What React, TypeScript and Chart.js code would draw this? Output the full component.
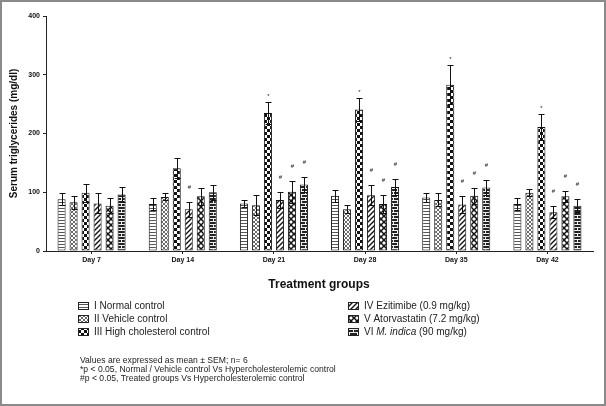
import React, { useEffect, useRef } from "react";
import { Chart, registerables } from "chart.js";

Chart.register(...registerables);

const FONT = "'Liberation Sans', Arial, sans-serif";

const categories = ["Day 7", "Day 14", "Day 21", "Day 28", "Day 35", "Day 42"];
const seriesLabels = [
  "I Normal control",
  "II Vehicle control",
  "III High cholesterol control",
  "IV Ezitimibe (0.9 mg/kg)",
  "V Atorvastatin (7.2 mg/kg)",
  "VI M. indica (90 mg/kg)",
];

const normalMeans = [88, 80, 81, 94, 91, 80];
const vehicleMeans = [83, 92, 78, 71, 87, 99];
const highCholMeans = [99, 141, 235, 241, 283, 211];
const ezetimibeMeans = [81, 71, 87, 95, 79, 66];
const atorvastatinMeans = [77, 93, 101, 80, 94, 93];
const indicaMeans = [96, 100, 113, 109, 108, 77];

const normalSem = [10, 11, 6, 10, 8, 11];
const vehicleSem = [11, 6, 17, 7, 11, 6];
const highCholSem = [15, 17, 19, 20, 33, 22];
const ezetimibeSem = [17, 13, 14, 17, 14, 10];
const atorvastatinSem = [13, 15, 19, 15, 14, 9];
const indicaSem = [13, 13, 13, 13, 13, 11];

const normalMarks = ["", "", "", "", "", ""];
const vehicleMarks = ["", "", "", "", "", ""];
const highCholMarks = ["", "", "*", "*", "*", "*"];
const ezetimibeMarks = ["", "#", "#", "#", "#", "#"];
const atorvastatinMarks = ["", "", "#", "#", "#", "#"];
const indicaMarks = ["", "", "#", "#", "#", "#"];

const yTicks = [0, 100, 200, 300, 400];

const notes = [
  "Values are expressed as mean \u00b1 SEM; n= 6",
  "*p < 0.05, Normal / Vehicle control Vs Hypercholesterolemic control",
  "#p < 0.05, Treated groups Vs Hypercholesterolemic control",
];

const means = [normalMeans, vehicleMeans, highCholMeans, ezetimibeMeans, atorvastatinMeans, indicaMeans];
const sems = [normalSem, vehicleSem, highCholSem, ezetimibeSem, atorvastatinSem, indicaSem];
const marks = [normalMarks, vehicleMarks, highCholMarks, ezetimibeMarks, atorvastatinMarks, indicaMarks];

function makePattern(kind: number): CanvasPattern | string {
  const c = document.createElement("canvas");
  const g = c.getContext("2d");
  if (!g) return "#fff";
  if (kind === 0) {
    c.width = 2; c.height = 3;
    g.fillStyle = "#fff"; g.fillRect(0, 0, 2, 3);
    g.fillStyle = "#555"; g.fillRect(0, 1, 2, 1);
  } else if (kind === 1) {
    c.width = 4; c.height = 4;
    g.fillStyle = "#fff"; g.fillRect(0, 0, 4, 4);
    g.fillStyle = "#6a6a6a";
    for (let i = 0; i < 4; i++) { g.fillRect(i, i, 1, 1); g.fillRect(3 - i, i, 1, 1); }
  } else if (kind === 2) {
    c.width = 6; c.height = 6;
    g.fillStyle = "#fff"; g.fillRect(0, 0, 6, 6);
    g.fillStyle = "#111"; g.fillRect(0, 0, 3, 3); g.fillRect(3, 3, 3, 3);
  } else if (kind === 3) {
    c.width = 5; c.height = 5;
    g.fillStyle = "#fff"; g.fillRect(0, 0, 5, 5);
    g.strokeStyle = "#111"; g.lineWidth = 1.4;
    g.beginPath();
    g.moveTo(-1, 6); g.lineTo(6, -1);
    g.moveTo(-1, 1); g.lineTo(1, -1);
    g.moveTo(4, 6); g.lineTo(6, 4);
    g.stroke();
  } else if (kind === 4) {
    c.width = 6; c.height = 6;
    g.fillStyle = "#fff"; g.fillRect(0, 0, 6, 6);
    g.strokeStyle = "#111"; g.lineWidth = 1.5;
    g.beginPath();
    g.moveTo(-1, -1); g.lineTo(7, 7);
    g.moveTo(-1, 7); g.lineTo(7, -1);
    g.stroke();
  } else {
    c.width = 8; c.height = 6;
    g.fillStyle = "#222"; g.fillRect(0, 0, 8, 6);
    g.fillStyle = "#eee";
    g.fillRect(0, 2, 8, 1); g.fillRect(0, 5, 8, 1);
    g.fillRect(1, 0, 1, 2); g.fillRect(5, 3, 1, 2);
  }
  const ctxMain = document.createElement("canvas").getContext("2d");
  return (ctxMain && ctxMain.createPattern(c, "repeat")) || "#fff";
}

const errorBarPlugin = {
  id: "errorBars",
  afterDatasetsDraw(chart: any) {
    const ctx = chart.ctx;
    const ys = chart.scales.y;
    ctx.save();
    chart.data.datasets.forEach((ds: any, i: number) => {
      const meta = chart.getDatasetMeta(i);
      meta.data.forEach((bar: any, j: number) => {
        const m = ds.data[j];
        const e = sems[i][j];
        const x = Math.round(bar.x) + 0.5;
        const yt = Math.round(ys.getPixelForValue(m + e)) + 0.5;
        const yb = Math.round(ys.getPixelForValue(m - e)) + 0.5;
        ctx.strokeStyle = "#111";
        ctx.lineWidth = 1;
        ctx.beginPath();
        ctx.moveTo(x, yt); ctx.lineTo(x, yb);
        ctx.moveTo(x - 3, yt); ctx.lineTo(x + 3, yt);
        ctx.moveTo(x - 3, yb); ctx.lineTo(x + 3, yb);
        ctx.stroke();
        const mk = marks[i][j];
        if (mk) {
          ctx.fillStyle = "#222";
          ctx.font = `6px ${FONT}`;
          ctx.textAlign = "center";
          ctx.textBaseline = "middle";
          ctx.fillText(mk, x, mk === "*" ? yt - 6 : yt - 15);
        }
      });
    });
    ctx.restore();
  },
};

const framePlugin = {
  id: "frame",
  beforeDraw(chart: any) {
    const ctx = chart.ctx;
    ctx.save();
    ctx.fillStyle = "#fff";
    ctx.fillRect(0, 0, chart.width, chart.height);
    ctx.restore();
  },
  afterDraw(chart: any) {
    const ctx = chart.ctx;
    ctx.save();
    ctx.strokeStyle = "#8a8a8a";
    ctx.lineWidth = 2;
    ctx.strokeRect(1, 1, chart.width - 2, chart.height - 2);

    ctx.fillStyle = "#111";
    ctx.font = `bold 12px ${FONT}`;
    ctx.textAlign = "center";
    ctx.textBaseline = "middle";
    ctx.fillText("Treatment groups", 319, 285);

    // legend
    const ds = chart.data.datasets;
    const rows = [306, 319, 332];
    ds.forEach((d: any, i: number) => {
      const col = i < 3 ? 0 : 1;
      const row = rows[i % 3];
      const sx = col === 0 ? 78 : 348;
      const tx = col === 0 ? 94 : 364;
      ctx.fillStyle = d.backgroundColor;
      ctx.fillRect(sx, row - 4, 11, 8);
      ctx.strokeStyle = "#222";
      ctx.lineWidth = 1;
      ctx.strokeRect(sx + 0.5, row - 3.5, 10, 7);
      ctx.fillStyle = "#222";
      ctx.textAlign = "left";
      ctx.textBaseline = "middle";
      if (i === 5) {
        ctx.font = `10px ${FONT}`;
        let x = tx;
        ctx.fillText("VI ", x, row);
        x += ctx.measureText("VI ").width;
        ctx.font = `italic 10px ${FONT}`;
        ctx.fillText("M. indica", x, row);
        x += ctx.measureText("M. indica").width;
        ctx.font = `10px ${FONT}`;
        ctx.fillText(" (90 mg/kg)", x, row);
      } else {
        ctx.font = `10px ${FONT}`;
        ctx.fillText(d.label, tx, row);
      }
    });

    ctx.font = `8.6px ${FONT}`;
    ctx.fillStyle = "#222";
    notes.forEach((n, k) => ctx.fillText(n, 80, 361 + k * 9));
    ctx.restore();
  },
};

export default function App() {
  const ref = useRef<HTMLCanvasElement | null>(null);
  useEffect(() => {
    if (!ref.current) return;
    const datasets = means.map((m, i) => ({
      label: seriesLabels[i],
      data: m,
      backgroundColor: makePattern(i) as any,
      borderColor: "#111",
      borderWidth: 1,
      borderSkipped: false as any,
      barPercentage: 0.67,
      categoryPercentage: 0.79,
    }));
    const chart = new Chart(ref.current, {
      type: "bar",
      data: { labels: categories, datasets },
      options: {
        responsive: false,
        animation: false,
        devicePixelRatio: 1,
        layout: { padding: { top: 16, right: 13, bottom: 0, left: 0 } },
        plugins: { legend: { display: false }, tooltip: { enabled: false } },
        scales: {
          x: {
            grid: { offset: false, drawOnChartArea: false, drawTicks: true, tickLength: 3, color: "#222" },
            border: { color: "#222", width: 1 },
            ticks: { font: { family: FONT, size: 7, weight: "bold" }, color: "#111", padding: 2 },
            afterFit: (s: any) => { s.height = 155; },
          },
          y: {
            min: 0,
            max: 400,
            afterBuildTicks: (s: any) => { s.ticks = yTicks.map((v) => ({ value: v })); },
            ticks: { font: { family: FONT, size: 7, weight: "bold" }, color: "#111", padding: 3 },
            grid: { drawOnChartArea: false, drawTicks: true, tickLength: 3, color: "#222" },
            border: { color: "#222", width: 1 },
            title: {
              display: true,
              text: "Serum triglycerides (mg/dl)",
              font: { family: FONT, size: 10, weight: "bold" },
              color: "#111",
              padding: { top: 8, bottom: 0 },
            },
            afterFit: (s: any) => { s.width = 46; },
          },
        },
      },
      plugins: [framePlugin, errorBarPlugin],
    });
    return () => chart.destroy();
  }, []);
  return (
    <div style={{ position: "fixed", left: 0, top: 0, width: 606, height: 406, background: "#fff" }}>
      <canvas ref={ref} width={606} height={406} style={{ display: "block" }} />
    </div>
  );
}
